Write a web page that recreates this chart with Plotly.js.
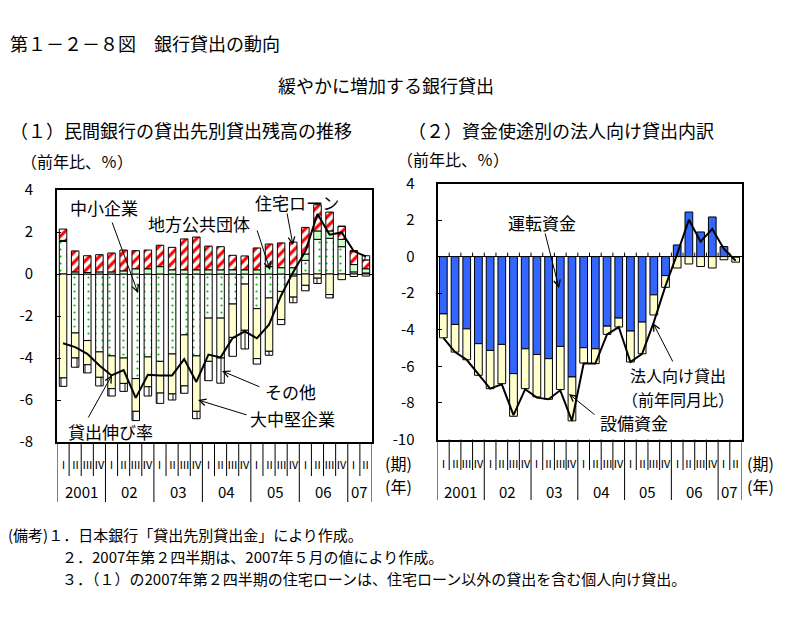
<!DOCTYPE html>
<html><head><meta charset="utf-8">
<script src="https://cdn.plot.ly/plotly-3.0.1.min.js"></script>
<style>html,body{margin:0;padding:0;background:#fff}#chart{width:789px;height:634px}</style>
</head><body><div id="chart"></div>
<script>
// ---- categories ----
const quarters = ['Ⅰ','Ⅱ','Ⅲ','Ⅳ','Ⅰ','Ⅱ','Ⅲ','Ⅳ','Ⅰ','Ⅱ','Ⅲ','Ⅳ','Ⅰ','Ⅱ','Ⅲ','Ⅳ','Ⅰ','Ⅱ','Ⅲ','Ⅳ','Ⅰ','Ⅱ','Ⅲ','Ⅳ','Ⅰ','Ⅱ'];
const years = ['2001','02','03','04','05','06','07'];
const yTicks1 = [4,2,0,-2,-4,-6,-8];
const yTickText1 = ['4','2','0','-2','-4','-6','-8'];
const yTicks2 = [4,2,0,-2,-4,-6,-8,-10];
const yTickText2 = ['4','2','0','-2','-4','-6','-8','-10'];

// ---- (1) 民間銀行の貸出先別貸出残高 ----
const sme      = [1.55,-2.81,-3.17,-3.71,-3.90,-4.00,-4.98,-3.95,-4.16,-3.81,-2.90,-3.90,-2.10,-2.10,-1.43,-0.48,-1.65,-1.14,-0.83,-0.10,0.65,1.65,1.70,1.30,0.10,0.05];
const localGov = [0.05,0.10,0.07,0.10,0.10,0.15,0.25,0.25,0.35,0.20,0.20,0.20,0.20,0.20,0.20,0.20,0.20,0.35,0.30,0.30,0.30,0.40,0.35,0.35,0.35,0.20];
const housing  = [0.54,1.00,0.80,0.82,0.90,0.99,0.86,0.89,1.02,1.07,1.47,1.56,1.13,1.10,0.69,0.66,1.04,1.08,1.18,1.22,1.27,1.25,0.90,0.62,0.65,0.42];
const bigCorp  = [-4.95,-1.19,-1.15,-1.21,-1.56,-1.21,-1.56,-1.42,-1.51,-1.90,-2.43,-2.64,-2.06,-1.90,-1.59,-2.20,-2.38,-2.54,-1.34,-1.00,-0.54,-0.20,-0.98,-0.27,-0.12,-0.10];
const others   = [-0.40,-0.44,-0.39,-0.41,-0.35,-0.38,-0.44,-0.44,-0.49,-0.29,-0.35,-0.35,-0.92,-1.20,-0.90,-0.89,-0.26,-0.19,-0.24,-0.27,-0.26,-0.25,-0.16,0.00,0.00,0.20];
const loanGrowth = [-3.30,-3.48,-3.80,-4.36,-4.83,-4.58,-5.90,-4.80,-4.83,-4.83,-4.05,-5.14,-3.84,-3.97,-3.05,-2.73,-3.06,-2.41,-1.02,0.10,1.08,2.86,1.87,1.98,1.08,0.84];

// ---- (2) 資金使途別の法人向け貸出 ----
const working   = [-3.13,-3.71,-3.95,-4.76,-5.13,-4.80,-6.40,-5.04,-5.35,-5.58,-4.91,-6.58,-4.98,-5.04,-3.80,-3.36,-4.07,-3.58,-2.09,-1.04,0.64,2.44,1.35,2.17,0.55,-0.03];
const equipment = [-1.31,-1.51,-1.69,-1.73,-2.09,-2.15,-2.33,-2.18,-2.32,-2.22,-2.36,-2.40,-0.84,-0.81,-0.45,-0.49,-1.69,-1.73,-1.10,-0.64,-0.62,-0.40,-0.54,-0.62,-0.17,-0.27];
const corpLoans = [-4.44,-5.22,-5.64,-6.45,-7.22,-6.98,-8.67,-7.25,-7.71,-7.80,-7.31,-8.98,-5.85,-5.85,-4.25,-3.85,-5.76,-5.31,-3.58,-1.60,0.15,2.02,0.82,1.51,0.42,-0.22];

// ---- notes ----
const notes = [
  '(備考)１．日本銀行「貸出先別貸出金」により作成。',
  '２．2007年第２四半期は、2007年５月の値により作成。',
  '３．（１）の2007年第２四半期の住宅ローンは、住宅ローン以外の貸出を含む個人向け貸出。'
];

const FONT = '"Noto Sans CJK JP", "Noto Sans", sans-serif';
const W = 789, H = 634;
const px = x => x / W;
const py = y => 1 - y / H;
const xs = quarters.map((_, i) => i);

const outline = {color: '#000', width: 1};
function bar(name, y, xa, ya, marker, width) {
  return {type: 'bar', name, x: xs, y, xaxis: xa, yaxis: ya, width,
          marker: Object.assign({line: outline}, marker), showlegend: false, hoverinfo: 'skip'};
}
const traces = [
  bar('中小企業', sme, 'x', 'y', {color: '#ffffff', pattern: {shape: '.', fgcolor: '#00c000', bgcolor: '#ffffff', size: 7, solidity: 0.08}}, 0.62),
  bar('地方公共団体', localGov, 'x', 'y', {color: '#ccffcc'}, 0.62),
  bar('住宅ローン', housing, 'x', 'y', {color: '#ffffff', pattern: {shape: '/', fgcolor: '#ff0000', bgcolor: '#ffffff', size: 7, solidity: 0.45}}, 0.62),
  bar('大中堅企業', bigCorp, 'x', 'y', {color: '#ffffcc'}, 0.62),
  bar('その他', others, 'x', 'y', {color: '#ffffff', pattern: {shape: '|', fgcolor: '#000000', bgcolor: '#ffffff', size: 8, solidity: 0.12}}, 0.62),
  {type: 'scatter', mode: 'lines', name: '貸出伸び率', x: xs, y: loanGrowth, xaxis: 'x', yaxis: 'y',
   line: {color: '#000', width: 2}, showlegend: false, hoverinfo: 'skip'},
  bar('運転資金', working, 'x2', 'y2', {color: '#3366ff'}, 0.66),
  bar('設備資金', equipment, 'x2', 'y2', {color: '#ffffcc'}, 0.66),
  {type: 'scatter', mode: 'lines', name: '法人向け貸出', x: xs, y: corpLoans, xaxis: 'x2', yaxis: 'y2',
   line: {color: '#000', width: 2}, showlegend: false, hoverinfo: 'skip'}
];

const shapes = [];
const annotations = [];
function txt(text, x, y, size, anchor, xref, yref, align) {
  annotations.push({text, x, y, xref: xref || 'paper', yref: yref || 'paper', showarrow: false,
    xanchor: anchor || 'left', yanchor: 'middle', align: align || 'center', borderpad: 0,
    font: {family: FONT, size, color: '#000'}});
}
function arrow(hx, hy, tx, ty) {
  annotations.push({text: '', x: px(hx), y: py(hy), xref: 'paper', yref: 'paper', ax: tx - hx, ay: ty - hy,
    showarrow: true, arrowhead: 5, arrowsize: 1.3, arrowwidth: 1, arrowcolor: '#000',
    borderpad: 0, font: {size: 1}});
}

// category axis rows (quarters, years, separators)
function categoryRows(xref, frameBottom, qEnd, yEnd, qY, yY) {
  for (let b = 0; b <= quarters.length; b++) {
    const isYear = b === 0 || b === quarters.length || quarters[b] === 'Ⅰ';
    shapes.push({type: 'line', xref, yref: 'paper', x0: b - 0.5, x1: b - 0.5,
      y0: py(frameBottom), y1: py(isYear ? yEnd : qEnd), line: {color: '#000', width: 1}});
  }
  quarters.forEach((q, i) => txt(q, i, py(qY), 11, 'center', xref));
  let start = 0, yi = 0;
  for (let i = 1; i <= quarters.length; i++) {
    if (i === quarters.length || quarters[i] === 'Ⅰ') {
      txt(years[yi], (start + i - 1) / 2, py(yY), 15, 'center', xref);
      yi++; start = i;
    }
  }
}
categoryRows('x', 442, 476, 502, 464, 491);
categoryRows('x2', 439.5, 470, 500, 463, 491);
// small ticks on the zero line of chart (2)
for (let b = 1; b < quarters.length; b++) {
  shapes.push({type: 'line', xref: 'x2', yref: 'y2', x0: b - 0.5, x1: b - 0.5, y0: 0, y1: 0.22, line: {color: '#000', width: 1}});
}

// titles & texts
txt('第１－２－８図　銀行貸出の動向', px(9), py(43), 18);
txt('緩やかに増加する銀行貸出', px(386), py(85), 18, 'center');
txt('（１）民間銀行の貸出先別貸出残高の推移', px(9), py(130), 18);
txt('（２）資金使途別の法人向け貸出内訳', px(407), py(130), 18);
txt('（前年比、％）', px(20), py(161), 16);
txt('（前年比、％）', px(396), py(159), 16);
txt('(期)', px(384), py(463), 16);
txt('(年)', px(384), py(486), 16);
txt('(期)', px(746), py(463), 16);
txt('(年)', px(746), py(486), 16);

// in-chart labels (1)
txt('中小企業', px(69), py(208), 17);
txt('地方公共団体', px(147), py(223), 17);
txt('住宅ローン', px(254), py(202), 17);
txt('その他', px(264), py(391), 17);
txt('大中堅企業', px(249), py(418), 17);
txt('貸出伸び率', px(67), py(431), 17);
arrow(138, 293, 112, 222);
arrow(270, 270, 257, 230);
arrow(293, 245, 287, 213);
arrow(222, 371, 260, 387);
arrow(198, 400, 247, 415);
arrow(112, 375, 88, 418);
// in-chart labels (2)
txt('運転資金', px(507), py(222), 17);
txt('法人向け貸出', px(629), py(375), 16);
txt('（前年同月比）', px(621), py(399), 16);
txt('設備資金', px(599), py(422), 17);
arrow(559, 288, 545, 233);
arrow(569, 394, 595, 415);
arrow(653, 323, 673, 362);

// notes (lines 2 and 3 indented)
const noteX = [7, 61, 61];
const noteY = [534, 556, 578];
notes.forEach((n, i) => txt(n, px(noteX[i]), py(noteY[i]), 15));

const frame = {showline: true, mirror: true, linewidth: 2, linecolor: '#000', showgrid: false, fixedrange: true};
const layout = {
  width: W, height: H, margin: {l: 0, r: 0, t: 0, b: 0},
  paper_bgcolor: '#fff', plot_bgcolor: '#fff',
  font: {family: FONT, color: '#000'},
  barmode: 'relative', showlegend: false,
  xaxis: Object.assign({}, frame, {domain: [px(57), px(372)], range: [-0.5, quarters.length - 0.5],
    showticklabels: false, ticks: '', zeroline: false, anchor: 'y'}),
  yaxis: Object.assign({}, frame, {domain: [py(442), py(190)], range: [-8, 4], tickvals: yTicks1, ticktext: yTickText1,
    ticks: 'inside', ticklen: 4, tickcolor: '#000', zeroline: true, zerolinecolor: '#000', zerolinewidth: 1,
    ticklabelstandoff: 19, tickfont: {family: FONT, size: 15, color: '#000'}, anchor: 'x'}),
  xaxis2: Object.assign({}, frame, {domain: [px(437.5), px(741.5)], range: [-0.5, quarters.length - 0.5],
    showticklabels: false, ticks: '', zeroline: false, anchor: 'y2'}),
  yaxis2: Object.assign({}, frame, {domain: [py(439.5), py(183.5)], range: [-10, 4], tickvals: yTicks2, ticktext: yTickText2,
    ticks: 'inside', ticklen: 4, tickcolor: '#000', zeroline: true, zerolinecolor: '#000', zerolinewidth: 1,
    ticklabelstandoff: 18, tickfont: {family: FONT, size: 15, color: '#000'}, anchor: 'x2'}),
  shapes, annotations
};
Plotly.newPlot('chart', traces, layout, {staticPlot: true, displayModeBar: false});
</script>
</body></html>
